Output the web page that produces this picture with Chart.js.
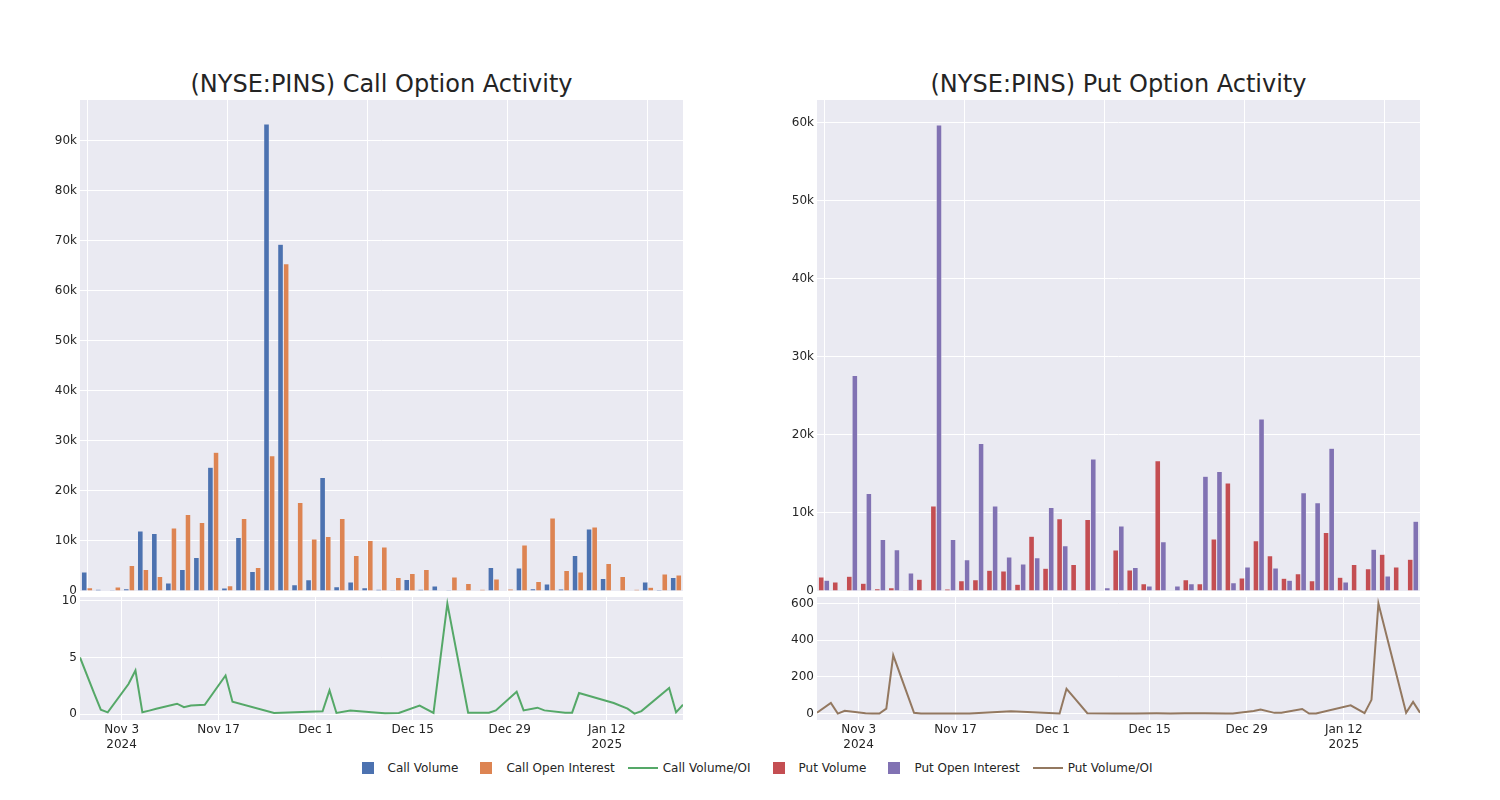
<!DOCTYPE html>
<html>
<head>
<meta charset="utf-8">
<script src="https://cdn.jsdelivr.net/npm/chart.js@4.4.1/dist/chart.umd.min.js"></script>
<style>
  body { margin: 0; background: #fff; width: 1500px; height: 800px; position: relative; overflow: hidden;
         font-family: 'DejaVu Sans', sans-serif; color: rgb(36,36,36); }
  .box { position: absolute; }
  .title { position: absolute; top: 70px; width: 603px; text-align: center; font-size: 24px; line-height: 28px; }
  #legend { position: absolute; left: 0; top: 760px; width: 1500px; height: 16px; display: flex;
            justify-content: center; align-items: center; font-size: 12px; }
  .item { display: flex; align-items: center; margin: 0 4px; }
  .sym { width: 40px; display: flex; justify-content: center; align-items: center; }
  .sq { width: 12px; height: 12px; }
  .ln { width: 30px; height: 2px; }
</style>
</head>
<body>
<div class="title" style="left:80px">(NYSE:PINS) Call Option Activity</div>
<div class="title" style="left:817px">(NYSE:PINS) Put Option Activity</div>

<div class="box" style="left:0px;top:88px"><canvas id="callBar" width="700" height="515"></canvas></div>
<div class="box" style="left:0px;top:585px"><canvas id="callLine" width="700" height="175"></canvas></div>
<div class="box" style="left:737px;top:88px"><canvas id="putBar" width="700" height="515"></canvas></div>
<div class="box" style="left:737px;top:585px"><canvas id="putLine" width="700" height="175"></canvas></div>

<div id="legend">
  <div class="item"><span class="sym"><span class="sq" style="background:rgb(76,114,176)"></span></span>Call Volume</div>
  <div class="item"><span class="sym"><span class="sq" style="background:rgb(221,132,82)"></span></span>Call Open Interest</div>
  <div class="item"><span class="sym"><span class="ln" style="background:rgb(85,168,104)"></span></span>Call Volume/OI</div>
  <div class="item"><span class="sym"><span class="sq" style="background:rgb(196,78,82)"></span></span>Put Volume</div>
  <div class="item"><span class="sym"><span class="sq" style="background:rgb(129,114,179)"></span></span>Put Open Interest</div>
  <div class="item"><span class="sym"><span class="ln" style="background:rgb(147,120,96)"></span></span>Put Volume/OI</div>
</div>

<script>
// trading days shown in the bar panels
const dates = ['2024-10-28', '2024-10-30', '2024-10-31', '2024-11-01', '2024-11-04', '2024-11-05', '2024-11-06',
  '2024-11-07', '2024-11-08', '2024-11-11', '2024-11-12', '2024-11-13', '2024-11-15', '2024-11-18', '2024-11-19',
  '2024-11-25', '2024-12-02', '2024-12-03', '2024-12-04', '2024-12-06', '2024-12-10', '2024-12-11', '2024-12-13',
  '2024-12-16', '2024-12-18', '2024-12-20', '2024-12-23', '2024-12-26', '2024-12-27', '2024-12-30', '2024-12-31',
  '2025-01-02', '2025-01-03', '2025-01-06', '2025-01-07', '2025-01-08', '2025-01-13', '2025-01-15', '2025-01-16',
  '2025-01-17', '2025-01-21', '2025-01-22', '2025-01-23'];

const callVolume = [3800, 330, 200, 470, 12000, 11500, 1600, 4300, 6700, 24700, 600, 10700, 3900, 93300, 69300,
  1270, 2270, 22700, 870, 1800, 670, 330, 200, 2300, 330, 1000, 200, 130, 100, 4700, 100,
  4600, 470, 1400, 400, 7100, 12400, 2500, 70, 50, 1800, 270, 2700];
const callOI = [670, 130, 800, 5100, 4300, 2900, 12600, 15300, 13700, 27700, 1070, 14500, 4700, 27000, 65400,
  17700, 10400, 10900, 14500, 7100, 10100, 8800, 2700, 3500, 4300, 100, 2800, 1500, 330, 2400, 400,
  9200, 1900, 14600, 4100, 3800, 12800, 5500, 2900, 330, 730, 3400, 3200];
const callRatio = [5.0, 1.9, 0.38, 0.15, 2.65, 3.85, 0.15, 0.3, 0.46, 0.91, 0.6, 0.76, 0.82, 3.41, 1.09,
  0.09, 0.24, 2.09, 0.09, 0.3, 0.11, 0.06, 0.09, 0.74, 0.09, 9.76, 0.12, 0.12, 0.32, 1.97, 0.32,
  0.56, 0.32, 0.12, 0.12, 1.85, 0.97, 0.47, 0.03, 0.26, 2.3, 0.15, 0.82];

const putVolume = [1800, 1150, 1900, 1000, 300, 430, 100, 1500, 10900, 250, 1300, 1450, 2650, 2560, 850,
  7000, 2900, 9270, 3400, 9150, 80, 5260, 2700, 940, 16700, 40, 1450, 940, 6670, 13850, 1670,
  6450, 4500, 1620, 2220, 1320, 7480, 1750, 3380, 2860, 4700, 3080, 4060];
const putOI = [1370, 0, 27600, 12500, 6600, 5300, 2300, 40, 59700, 6600, 4000, 18900, 10900, 4360, 3460,
  4270, 10700, 5800, 80, 16900, 430, 8330, 3000, 640, 6300, 640, 940, 14700, 15300, 1070, 3080,
  22050, 2950, 1370, 12600, 11300, 18300, 1150, 0, 5340, 1920, 0, 8930];
const putRatio = [5, 58, 0, 15, 2, 1, 0, 27, 318, 4, 0, 0, 0, 0, 1,
  13, 0, 135, 91, 2, 1, 1, 1, 2, 1, 2, 2, 1, 1, 14, 22,
  4, 5, 25, 0, 0, 45, 2, 75, 600, 5, 64, 5];

// axis ticks
const tickDates = ['2024-11-03', '2024-11-17', '2024-12-01', '2024-12-15', '2024-12-29', '2025-01-12'];
const tickLabels = [['Nov 3', '2024'], 'Nov 17', 'Dec 1', 'Dec 15', 'Dec 29', ['Jan 12', '2025']];
const callBarTicks = [0, 10000, 20000, 30000, 40000, 50000, 60000, 70000, 80000, 90000];
const putBarTicks = [0, 10000, 20000, 30000, 40000, 50000, 60000];
const callLineTicks = [0, 5, 10];
const putLineTicks = [0, 200, 400, 600];

const day = s => Date.parse(s) / 86400000;

Chart.defaults.font.family = "'DejaVu Sans', sans-serif";
Chart.defaults.font.size = 12;
Chart.defaults.color = 'rgb(36,36,36)';
Chart.defaults.animation = false;

// grey plot background like the seaborn template
const plotBg = {
  id: 'plotBg',
  beforeDraw(chart) {
    const { ctx, chartArea: a } = chart;
    ctx.save();
    ctx.fillStyle = '#EAEAF2';
    ctx.fillRect(a.left, a.top, a.width, a.height);
    ctx.restore();
  }
};

function barChart(id, series, colors, max, yTicks) {
  return new Chart(document.getElementById(id), {
    type: 'bar',
    data: {
      labels: dates,
      datasets: series.map((s, i) => ({
        data: s,
        backgroundColor: colors[i],
        borderColor: '#EAEAF2',
        borderWidth: 0.5,
        categoryPercentage: 0.8,
        barPercentage: 1
      }))
    },
    options: {
      responsive: false,
      layout: { padding: { left: 0, right: 17, top: 12, bottom: 12 } },
      plugins: { legend: { display: false }, tooltip: { enabled: false } },
      scales: {
        x: {
          ticks: { display: false, autoSkip: false },
          grid: { offset: false, drawTicks: false, color: c => c.index % 10 === 0 ? '#ffffff' : 'rgba(0,0,0,0)' },
          border: { display: false },
          afterFit: s => { s.height = 0; }
        },
        y: {
          min: 0,
          max: max,
          afterBuildTicks: s => { s.ticks = yTicks.map(v => ({ value: v })); },
          ticks: { padding: 3, callback: v => v === 0 ? '0' : v / 1000 + 'k' },
          grid: { color: '#ffffff', drawTicks: false },
          border: { display: false },
          afterFit: s => { s.width = 80; }
        }
      }
    },
    plugins: [plotBg]
  });
}

function lineChart(id, values, color, min, max, yTicks) {
  return new Chart(document.getElementById(id), {
    type: 'line',
    data: {
      datasets: [{
        data: dates.map((d, i) => ({ x: day(d), y: values[i] })),
        borderColor: color,
        borderWidth: 2,
        pointRadius: 0,
        tension: 0
      }]
    },
    options: {
      responsive: false,
      layout: { padding: { left: 0, right: 17, top: 12, bottom: 0 } },
      plugins: { legend: { display: false }, tooltip: { enabled: false } },
      scales: {
        x: {
          type: 'linear',
          min: day(dates[0]),
          max: day(dates[dates.length - 1]),
          afterBuildTicks: s => { s.ticks = tickDates.map(d => ({ value: day(d) })); },
          ticks: { padding: 3, autoSkip: false, maxRotation: 0, callback: (v, i) => tickLabels[i] },
          grid: { color: '#ffffff', drawTicks: false },
          border: { display: false },
          afterFit: s => { s.height = 40; }
        },
        y: {
          min: min,
          max: max,
          afterBuildTicks: s => { s.ticks = yTicks.map(v => ({ value: v })); },
          ticks: { padding: 3, callback: v => String(v) },
          grid: { color: '#ffffff', drawTicks: false },
          border: { display: false },
          afterFit: s => { s.width = 80; }
        }
      }
    },
    plugins: [plotBg]
  });
}

barChart('callBar', [callVolume, callOI], ['rgb(76,114,176)', 'rgb(221,132,82)'], 98100, callBarTicks);
lineChart('callLine', callRatio, 'rgb(85,168,104)', -0.53, 10.35, callLineTicks);
barChart('putBar', [putVolume, putOI], ['rgb(196,78,82)', 'rgb(129,114,179)'], 62900, putBarTicks);
lineChart('putLine', putRatio, 'rgb(147,120,96)', -35, 636, putLineTicks);
</script>
</body>
</html>
